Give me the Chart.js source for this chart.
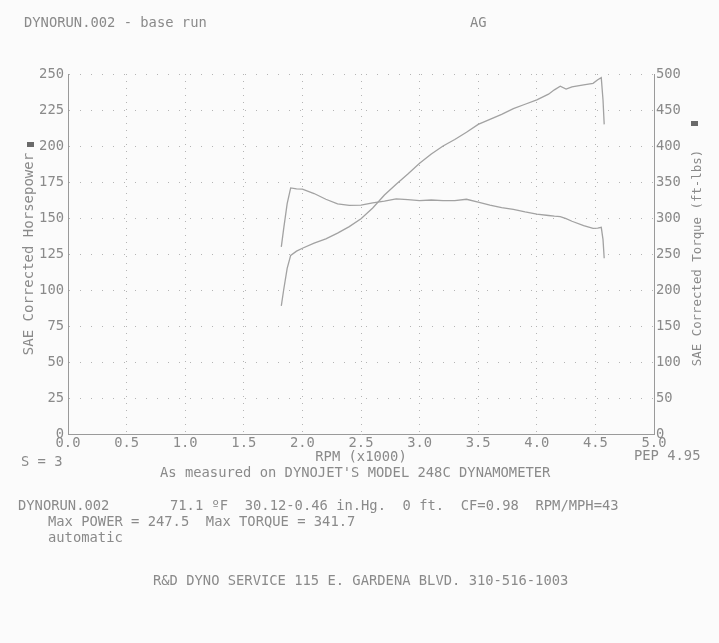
<!DOCTYPE html>
<html lang="en">
  <head>
    <meta charset="UTF-8" />
    <meta name="viewport" content="width=device-width, initial-scale=1.0" />
    <title>DYNORUN.002 - base run</title>
    <script src="https://cdn.jsdelivr.net/npm/chart.js"></script>
    <style>
      body {
        margin: 0;
        background-color: #fbfbfb;
      }
      #page {
        position: relative;
        width: 719px;
        height: 643px;
        overflow: hidden;
        font-family: "DejaVu Sans Mono", monospace;
        font-size: 13.8px;
        color: #8a8a8a;
      }
      #chartBox {
        position: absolute;
        left: 0;
        top: 0;
        width: 719px;
        height: 643px;
      }
      .txt {
        position: absolute;
        white-space: pre;
        line-height: 16px;
      }
      .mark {
        position: absolute;
        width: 7px;
        height: 5px;
        background-color: #6a6a6a;
      }
      #torqueTitle {
        left: 697px;
        top: 258px;
        font-size: 12.4px;
        transform: translate(-50%, -50%) rotate(-90deg);
      }
    </style>
  </head>
  <body>
    <div id="page">
      <div id="chartBox"><canvas id="dynoChart"></canvas></div>

      <div class="txt" style="left: 24px; top: 14px">DYNORUN.002 - base run</div>
      <div class="txt" style="left: 470px; top: 14px">AG</div>

      <div class="mark" style="left: 27px; top: 142px"></div>
      <div class="mark" style="left: 691px; top: 121px"></div>
      <div class="txt" id="torqueTitle">SAE Corrected Torque (ft-lbs)</div>

      <div class="txt" style="left: 21px; top: 453px">S = 3</div>
      <div class="txt" style="left: 634px; top: 447px">PEP 4.95</div>
      <div class="txt" style="left: 160px; top: 464px">As measured on DYNOJET'S MODEL 248C DYNAMOMETER</div>

      <div class="txt" style="left: 18px; top: 497px">DYNORUN.002</div>
      <div class="txt" style="left: 170px; top: 497px">71.1 ºF  30.12-0.46 in.Hg.  0 ft.  CF=0.98  RPM/MPH=43</div>
      <div class="txt" style="left: 48px; top: 513px">Max POWER = 247.5  Max TORQUE = 341.7</div>
      <div class="txt" style="left: 48px; top: 529px">automatic</div>

      <div class="txt" style="left: 153px; top: 572px">R&amp;D DYNO SERVICE 115 E. GARDENA BLVD. 310-516-1003</div>
    </div>

    <script>
      // engine speed, thousands of rpm
      const rpm = [
        1.82, 1.84, 1.87, 1.9, 1.95, 2.0, 2.1, 2.2, 2.3, 2.4, 2.5, 2.6, 2.7,
        2.8, 2.9, 3.0, 3.1, 3.2, 3.3, 3.4, 3.5, 3.6, 3.7, 3.8, 3.9, 4.0, 4.1,
        4.15, 4.2, 4.25, 4.3, 4.4, 4.48, 4.52, 4.55, 4.565, 4.575,
      ];
      // SAE corrected horsepower (left axis)
      const horsepower = [
        89, 100, 115, 124, 127, 129, 132.5, 135.5, 139.5, 144, 149.5, 157,
        166, 173.5, 180.5, 188, 194.5, 200, 204.5, 209.5, 215, 218.5, 222,
        226, 229, 232, 236, 239, 241.5, 239.5, 241, 242.5, 243.5, 246, 247.5,
        232, 215,
      ];
      // SAE corrected torque, ft-lbs (right axis)
      const torque = [
        260, 285, 320, 341.7, 340.5, 340, 334, 326, 319.5, 317.5, 318, 321,
        323.5, 326.5, 325.5, 324, 325, 324, 324, 326, 322, 318, 314.5, 312,
        308.5, 305.5, 303.5, 302.5, 302, 299, 295.5, 289.5, 285.5, 286, 287,
        270, 244,
      ];

      const rpmTicks = [0, 0.5, 1, 1.5, 2, 2.5, 3, 3.5, 4, 4.5, 5];
      const hpTicks = [0, 25, 50, 75, 100, 125, 150, 175, 200, 225, 250];
      const tqTicks = [0, 50, 100, 150, 200, 250, 300, 350, 400, 450, 500];

      const ink = "#8a8a8a";
      const curve = "#a2a2a2";
      const dots = "#b4b4b4";
      const tickFont = { family: "DejaVu Sans Mono", size: 13.8 };

      const toPoints = (ys) => rpm.map((x, i) => ({ x: x, y: ys[i] }));

      const ctx = document.getElementById("dynoChart").getContext("2d");
      const dynoChart = new Chart(ctx, {
        type: "line",
        data: {
          datasets: [
            {
              label: "Horsepower",
              data: toPoints(horsepower),
              yAxisID: "yHp",
              borderColor: curve,
              borderWidth: 1.3,
              pointRadius: 0,
              tension: 0,
            },
            {
              label: "Torque",
              data: toPoints(torque),
              yAxisID: "yTq",
              borderColor: curve,
              borderWidth: 1.3,
              pointRadius: 0,
              tension: 0,
            },
          ],
        },
        options: {
          responsive: true,
          maintainAspectRatio: false,
          animation: false,
          layout: {
            padding: { top: 74, left: 0, right: 0, bottom: 173 },
          },
          plugins: {
            legend: { display: false },
            tooltip: { enabled: false },
          },
          scales: {
            x: {
              type: "linear",
              min: 0,
              max: 5,
              afterBuildTicks: (scale) => {
                scale.ticks = rpmTicks.map((v) => ({ value: v }));
              },
              afterFit: (scale) => {
                scale.height = 36;
              },
              ticks: {
                color: ink,
                font: tickFont,
                padding: 1,
                maxRotation: 0,
                autoSkip: false,
                callback: (v) => v.toFixed(1),
              },
              grid: { color: dots, lineWidth: 1, drawTicks: false },
              border: { display: true, color: "#9a9a9a", width: 1, dash: [1, 6] },
              title: {
                display: true,
                text: "RPM (x1000)",
                color: ink,
                font: tickFont,
                padding: { top: 0, bottom: 4 },
              },
            },
            yHp: {
              type: "linear",
              position: "left",
              min: 0,
              max: 250,
              afterBuildTicks: (scale) => {
                scale.ticks = hpTicks.map((v) => ({ value: v }));
              },
              afterFit: (scale) => {
                scale.width = 68;
              },
              ticks: { color: ink, font: tickFont, padding: 4 },
              grid: { color: dots, lineWidth: 1, drawTicks: false },
              border: { display: true, color: "#9a9a9a", width: 1, dash: [1, 10] },
              title: {
                display: true,
                text: "SAE Corrected Horsepower",
                color: ink,
                font: { family: "DejaVu Sans Mono", size: 14 },
                padding: { top: 21, bottom: 0 },
              },
            },
            yTq: {
              type: "linear",
              position: "right",
              min: 0,
              max: 500,
              afterBuildTicks: (scale) => {
                scale.ticks = tqTicks.map((v) => ({ value: v }));
              },
              afterFit: (scale) => {
                scale.width = 65;
              },
              ticks: { color: ink, font: tickFont, padding: 2 },
              grid: { display: false, drawTicks: false },
              border: { display: true, color: "#9a9a9a", width: 1 },
            },
          },
        },
      });
    </script>
  </body>
</html>
